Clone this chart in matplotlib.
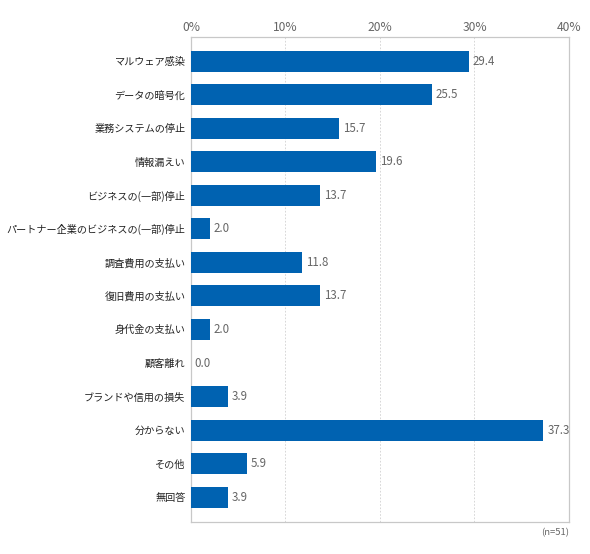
import matplotlib.pyplot as plt
import numpy as np

plt.rcParams['font.family'] = ['Noto Sans CJK JP', 'DejaVu Sans']

CATEGORIES = [
    'マルウェア感染',
    'データの暗号化',
    '業務システムの停止',
    '情報漏えい',
    'ビジネスの(一部)停止',
    'パートナー企業のビジネスの(一部)停止',
    '調査費用の支払い',
    '復旧費用の支払い',
    '身代金の支払い',
    '顧客離れ',
    'ブランドや信用の損失',
    '分からない',
    'その他',
    '無回答',
]
VALUES = [29.4, 25.5, 15.7, 19.6, 13.7, 2.0, 11.8, 13.7, 2.0, 0.0, 3.9, 37.3, 5.9, 3.9]
XTICKS = [0, 10, 20, 30, 40]
BAR_COLOR = '#0062b1'


def main():
    fig = plt.figure(figsize=(5.9, 5.54), dpi=100)
    ax = fig.add_axes([0.3237, 0.0578, 0.6407, 0.8754])
    y = np.arange(len(CATEGORIES))
    ax.barh(y, VALUES, height=0.63, color=BAR_COLOR, zorder=3)
    for yi, v in zip(y, VALUES):
        ax.text(v + 0.4, yi, f'{v:.1f}', va='center', ha='left', fontsize=8.3, color='#666666')

    ax.set_xlim(0, 40)
    ax.set_ylim(13.74, -0.72)
    ax.set_xticks(XTICKS)
    ax.set_xticklabels([f'{t}%' for t in XTICKS], fontsize=8.7, color='#666666')
    ax.xaxis.tick_top()
    ax.tick_params(axis='x', length=0, pad=2)
    ax.set_yticks(y)
    ax.set_yticklabels(CATEGORIES, fontsize=7.3, color='#222222')
    ax.tick_params(axis='y', length=0, pad=4)
    ax.grid(axis='x', linestyle=(0, (2, 2)), linewidth=0.6, color='#d0d0d0', zorder=0)
    for s in ax.spines.values():
        s.set_color('#c8c8c8')
        s.set_linewidth(0.9)
    ax.text(1.0, -0.012, '(n=51)', transform=ax.transAxes, ha='right', va='top', fontsize=6.8, color='#666666')

    fig.savefig('out.png', dpi=100)


if __name__ == '__main__':
    main()
